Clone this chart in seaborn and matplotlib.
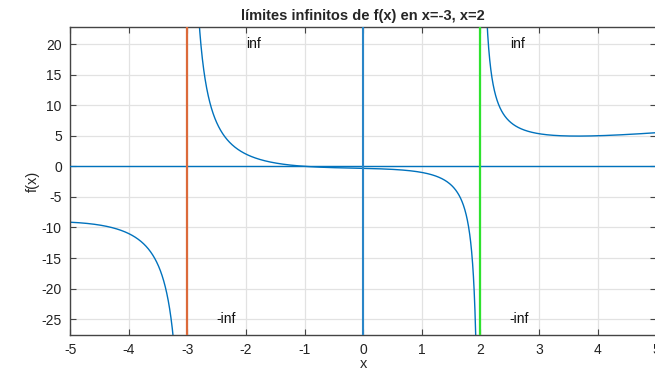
import numpy as np
import pandas as pd
import matplotlib
matplotlib.use("Agg")
import matplotlib.pyplot as plt
import seaborn as sns

# f(x) = (x^3 + x + 2) / ((x + 3)(x - 2))
num_coefs = [1, 0, 1, 2]
asymptotes = [-3, 2]
asymptote_colors = ["#DC6A3A", "#2EE22E"]
x_range = [-5, 5]
y_range = [-27.6, 22.8]
x_ticks = [-5, -4, -3, -2, -1, 0, 1, 2, 3, 4, 5]
y_ticks = [-25, -20, -15, -10, -5, 0, 5, 10, 15, 20]
limit_labels = ["inf", "-inf", "inf", "-inf"]
limit_x = [-2.0, -2.5, 2.5, 2.5]
limit_y = [20, -25, 20, -25]

den_coefs = np.polymul([1, -asymptotes[0]], [1, -asymptotes[1]])

sns.set_theme(style="whitegrid")
plt.rcParams["font.family"] = ["Liberation Sans", "DejaVu Sans"]
plt.rcParams["axes.unicode_minus"] = False

fig = plt.figure(figsize=(6.55, 3.69), dpi=100)
ax = fig.add_axes([0.107, 0.092, 0.895, 0.835])

blue = "#0072BD"
edges = [x_range[0]] + asymptotes + [x_range[1]]
for a, b in zip(edges[:-1], edges[1:]):
    xs = np.linspace(a, b, 1500)[1:-1]
    ys = np.polyval(num_coefs, xs) / np.polyval(den_coefs, xs)
    keep = (ys > y_range[0] - 40) & (ys < y_range[1] + 40)
    df = pd.DataFrame({"x": xs[keep], "f": ys[keep]})
    sns.lineplot(data=df, x="x", y="f", ax=ax, color=blue, lw=1.0,
                 sort=False, estimator=None)

# coordinate axes
ax.axhline(0, color=blue, lw=1.0, zorder=3)
ax.axvline(0, color="#2a86c8", lw=1.5, zorder=3)

# vertical asymptotes
for xa, c in zip(asymptotes, asymptote_colors):
    ax.axvline(xa, color=c, lw=1.6, zorder=4)

for t, tx, ty in zip(limit_labels, limit_x, limit_y):
    ax.text(tx, ty, t, fontsize=10, ha="left", va="center", color="#111111")

ax.set_xlim(x_range)
ax.set_ylim(y_range)
ax.set_xticks(x_ticks)
ax.set_yticks(y_ticks)
ax.set_xlabel("x", fontsize=10.5, labelpad=0)
ax.set_ylabel("f(x)", fontsize=10.5, labelpad=1)
ax.set_title("límites infinitos de f(x) en x=-3, x=2", fontsize=10.5,
             fontweight="bold", pad=5)

ax.set_facecolor("white")
ax.grid(True, color="#e2e2e2", lw=0.9)
for s in ax.spines.values():
    s.set_visible(True)
    s.set_color("#444444")
    s.set_linewidth(1.0)
ax.tick_params(direction="in", length=4, width=0.8, color="#444444",
               top=True, right=True, bottom=True, left=True,
               labelsize=10, labelcolor="#222222")
ax.tick_params(axis="x", pad=6)
ax.tick_params(axis="y", pad=6)

fig.savefig("out.png", dpi=100)
